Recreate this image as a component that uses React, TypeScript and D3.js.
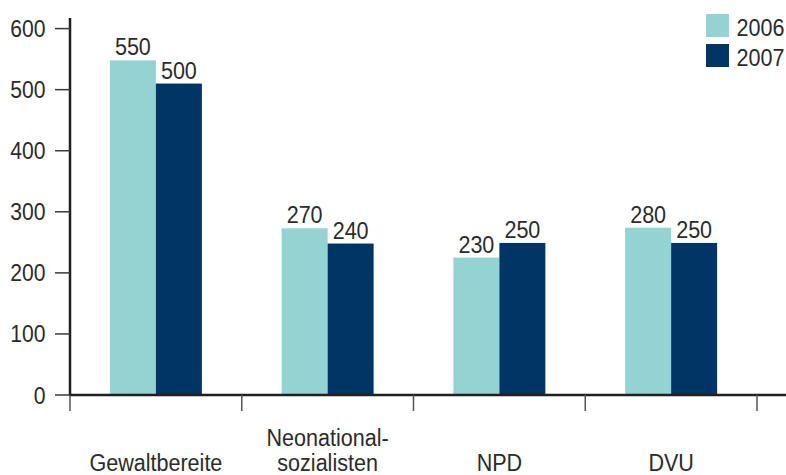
import React from 'react';
import * as d3 from 'd3';

// Kategorien und Werte (Balkenhöhen, Beschriftung wie gedruckt)
const categories = [['Gewaltbereite'], ['Neonational-', 'sozialisten'], ['NPD'], ['DVU']];
const series = ['2006', '2007'];
const values2006 = [548, 273, 225, 274];
const values2007 = [510, 248, 249, 249];
const labels2006 = ['550', '270', '230', '280'];
const labels2007 = ['500', '240', '250', '250'];
const yTicks = [0, 100, 200, 300, 400, 500, 600];

const colors = ['#93d3d2', '#003566'];
const font = '"Liberation Sans", Arial, sans-serif';
const textColor = '#2b2b2b';
const squeeze = 0.88; // schmale Schrift nachbilden

function T({ x, y, anchor = 'start', size = 24, children }: any) {
  return (
    <text
      transform={`translate(${x},${y}) scale(${squeeze},1)`}
      textAnchor={anchor}
      fontSize={size}
      fill={textColor}
    >
      {children}
    </text>
  );
}

export default function App() {
  const width = 786;
  const height = 475;
  const left = 70;
  const bottom = 395;

  const y = d3.scaleLinear().domain([0, 600]).range([bottom, 28.6]);
  const x = d3.scaleBand<number>().domain(d3.range(categories.length)).range([left, 757]);
  const barW = 46;

  const data = [values2006, values2007];
  const labels = [labels2006, labels2007];

  return (
    <svg width={width} height={height} style={{ position: 'absolute', left: 0, top: 0 }} fontFamily={font}>
      {/* y axis */}
      <line x1={left} x2={left} y1={18} y2={bottom} stroke="#231f20" strokeWidth={2.5} />
      {yTicks.map((t) => (
        <g key={t}>
          <line x1={55} x2={left} y1={y(t)} y2={y(t)} stroke="#3a3a3a" strokeWidth={1.5} />
          <T x={45.5} y={y(t) + 8.5} anchor="end" size={24}>{t}</T>
        </g>
      ))}

      {/* bars */}
      {data.map((vals, s) =>
        vals.map((v, i) => {
          const bx = x(i)! + x.bandwidth() / 2 - barW + s * barW;
          return (
            <g key={`${s}-${i}`}>
              <rect x={bx} y={y(v)} width={barW} height={bottom - y(v)} fill={colors[s]} />
              <T x={bx + barW / 2} y={y(v) - 5} anchor="middle" size={24.5}>{labels[s][i]}</T>
            </g>
          );
        })
      )}

      {/* x axis */}
      <line x1={left - 1} x2={width} y1={bottom} y2={bottom} stroke="#231f20" strokeWidth={2.5} />
      {d3.range(categories.length + 1).map((i) => {
        const tx = left + i * x.bandwidth();
        return <line key={i} x1={tx} x2={tx} y1={bottom} y2={411} stroke="#555" strokeWidth={1.5} />;
      })}
      {categories.map((lines, i) =>
        lines.map((l, j) => (
          <T key={`${i}-${j}`} x={x(i)! + x.bandwidth() / 2} y={471 - (lines.length - 1 - j) * 25.5} anchor="middle" size={24.5}>
            {l}
          </T>
        ))
      )}

      {/* legend */}
      {series.map((s, i) => (
        <g key={s} transform={`translate(706, ${14 + i * 30})`}>
          <rect width={23} height={23} fill={colors[i]} />
          <T x={30.5} y={21.5} size={24.5}>{s}</T>
        </g>
      ))}
    </svg>
  );
}
